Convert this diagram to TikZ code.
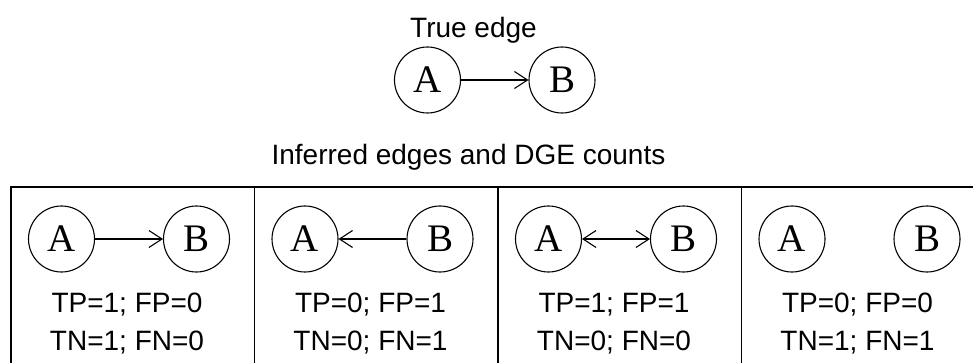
\documentclass[tikz,border=0pt]{standalone}
\usepackage{fontspec}
\setmainfont{Liberation Sans}
\newfontfamily\letterfont{Liberation Serif}
\usetikzlibrary{arrows.meta}
\begin{document}
\begin{tikzpicture}[x=1pt,y=-1pt,
  vertex/.style={circle,draw,line width=1.1pt,minimum size=66pt,inner sep=0pt,
    font=\letterfont\fontsize{39}{39}\selectfont},
  edge/.style={line width=1.1pt},
  tip/.tip={Straight Barb[length=13pt,width=17pt,line width=1.1pt]},
  label/.style={font=\fontsize{28}{28}\selectfont,inner sep=0pt,anchor=base},
  frame/.style={line width=1.6pt}
]
\useasboundingbox (0,0) rectangle (973,363);
\clip (0,0) rectangle (973,363);

% true edge
\node[label] (title) at (473.5,38) {True edge};
\node[vertex] (ta) at (427.5,80) {A};
\node[vertex] (tb) at (562,80) {B};
\draw[edge,-tip] (ta) -- (tb);

% inferred edges
\node[label] (subtitle) at (468.5,165) {Inferred edges and DGE counts};
\draw[frame] (11,187) rectangle (986,380);
\foreach \x in {254.5,498,741.5}
  \draw[frame] (\x,187) -- (\x,380);

% cell contents: circles at +50/+185, counts centred at +116
\foreach \i/\x/\la/\lb in {1/11/TP=1; FP=0/TN=1; FN=0,
                           2/254.5/TP=0; FP=1/TN=0; FN=1,
                           3/498/TP=1; FP=1/TN=0; FN=0,
                           4/741.5/TP=0; FP=0/TN=1; FN=1}{
  \node[vertex] (a\i) at (\x+50.5,239) {A};
  \node[vertex] (b\i) at (\x+185.5,239) {B};
  \node[label] (p\i) at (\x+116,312) {\la};
  \node[label] (n\i) at (\x+116,350) {\lb};
}
\draw[edge,-tip] (a1) -- (b1);
\draw[edge,-tip] (b2) -- (a2);
\draw[edge,tip-tip] (a3) -- (b3);
\end{tikzpicture}
\end{document}
